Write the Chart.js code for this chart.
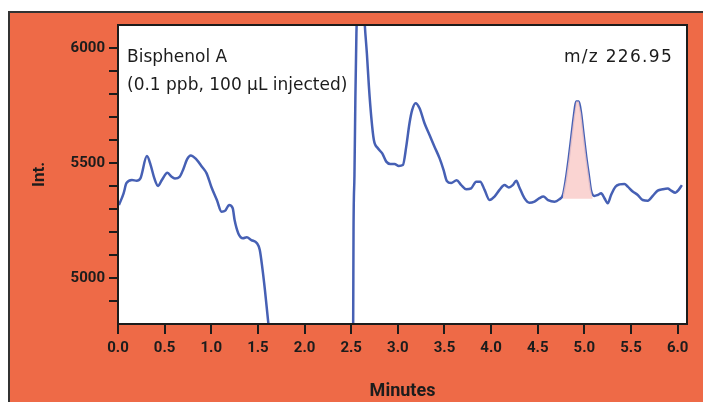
<!DOCTYPE html>
<html>
<head>
    <title>Bisphenol A m/z 226.95</title>
    <script src="https://cdn.jsdelivr.net/npm/chart.js"></script>
    <style>
        html, body { margin: 0; padding: 0; background: #fff; }
        #wrap { width: 703px; height: 402px; }
    </style>
</head>
<body>
    <div id="wrap"><canvas id="chart" width="703" height="402"></canvas></div>

    <script>
// Trace before the solvent gap (minutes, intensity)
const timeA = [0.01, 0.06, 0.09, 0.15, 0.2, 0.24, 0.31, 0.35, 0.39, 0.43, 0.47, 0.53, 0.575, 0.61, 0.66,
    0.70, 0.74, 0.78, 0.84, 0.90, 0.95, 1.0, 1.06, 1.11, 1.15, 1.19, 1.23, 1.25, 1.29, 1.34, 1.38, 1.43,
    1.49, 1.52, 1.55, 1.575, 1.61, 1.63];
const intA = [5317, 5368, 5412, 5426, 5423, 5433, 5530, 5491, 5433, 5400, 5426, 5458, 5440, 5433, 5440,
    5473, 5516, 5533, 5516, 5484, 5455, 5397, 5339, 5288, 5293, 5317, 5303, 5252, 5194, 5173, 5177, 5165,
    5151, 5122, 5035, 4948, 4810, 4740];

// Trace after the gap
const timeB = [2.515, 2.521, 2.525, 2.535, 2.545, 2.556, 2.575, 2.60, 2.625, 2.643, 2.668, 2.69, 2.715,
    2.743, 2.786, 2.833, 2.876, 2.919, 2.965, 3.01, 3.054, 3.09, 3.125, 3.154, 3.19, 3.233, 3.286, 3.34,
    3.393, 3.447, 3.49, 3.525, 3.572, 3.63, 3.68, 3.733, 3.786, 3.84, 3.883, 3.93, 3.983, 4.036, 4.09,
    4.143, 4.19, 4.232, 4.27, 4.30, 4.357, 4.41, 4.465, 4.518, 4.56, 4.61, 4.68, 4.73, 4.77, 4.80, 4.83,
    4.86, 4.886, 4.911, 4.94, 4.965, 4.99, 5.02, 5.05, 5.07, 5.107, 5.143, 5.18, 5.215, 5.25, 5.286,
    5.333, 5.376, 5.43, 5.465, 5.518, 5.572, 5.625, 5.68, 5.733, 5.786, 5.84, 5.893, 5.93, 5.975, 6.01, 6.045];
const intB = [4700, 4790, 5209, 5448, 5788, 6064, 6250, 6380, 6300, 6120, 5977, 5832, 5701,
    5600, 5564, 5542, 5506, 5496, 5496, 5487, 5491, 5571, 5673, 5731, 5760, 5738, 5673, 5622,
    5571, 5521, 5470, 5422, 5413, 5425, 5404, 5386, 5390, 5419, 5419, 5383, 5339, 5354, 5383,
    5404, 5394, 5404, 5423, 5397, 5347, 5327, 5332, 5347, 5354, 5339, 5332, 5342, 5361, 5426, 5513,
    5614, 5701, 5767, 5767, 5716, 5629, 5527, 5440, 5383, 5357, 5361, 5368, 5347, 5325, 5361,
    5397, 5407, 5409, 5397, 5376, 5361, 5339, 5336, 5357, 5380, 5386, 5389, 5380, 5371, 5383, 5404];

// Integrated peak window and its baseline
const peakStart = 4.765;
const peakEnd = 5.09;
const peakBase = 5345;

// Axis settings
const xTicks = [0, 0.5, 1, 1.5, 2, 2.5, 3, 3.5, 4, 4.5, 5, 5.5, 6];
const yTicks = [4900, 5000, 5100, 5200, 5300, 5400, 5500, 5600, 5700, 5800, 5900, 6000];
const yLabelled = [5000, 5500, 6000];

const toPoints = (t, v) => t.map((x, i) => ({ x: x, y: v[i] }));
const peakPoints = toPoints(timeB, intB).filter(p => p.x >= peakStart && p.x <= peakEnd);
peakPoints.unshift({ x: peakStart, y: peakBase });
peakPoints.push({ x: peakEnd, y: peakBase });

const ORANGE = '#EE6A47';
const BLUE = '#4660B4';
const INK = '#1c1c1c';

// background frame + plot border + in-plot labels
const framePlugin = {
    id: 'frame',
    beforeDraw(chart) {
        const ctx = chart.ctx;
        const a = chart.chartArea;
        ctx.save();
        ctx.fillStyle = '#fff';
        ctx.fillRect(0, 0, chart.width, chart.height);
        ctx.fillStyle = ORANGE;
        ctx.fillRect(9, 12, chart.width - 9, chart.height - 12);
        ctx.strokeStyle = '#333';
        ctx.lineWidth = 2;
        ctx.beginPath();
        ctx.moveTo(9, chart.height);
        ctx.lineTo(9, 12);
        ctx.lineTo(chart.width, 12);
        ctx.stroke();
        ctx.fillStyle = '#fff';
        ctx.fillRect(a.left, a.top, a.right - a.left, a.bottom - a.top);
        ctx.restore();
    },
    afterDraw(chart) {
        const ctx = chart.ctx;
        const a = chart.chartArea;
        ctx.save();
        ctx.strokeStyle = INK;
        ctx.lineWidth = 2;
        ctx.strokeRect(a.left, a.top, a.right - a.left, a.bottom - a.top);
        ctx.fillStyle = INK;
        ctx.font = '17px "DejaVu Sans"';
        ctx.textBaseline = 'alphabetic';
        ctx.textAlign = 'left';
        ctx.fillText('Bisphenol A', a.left + 9, 62);
        ctx.fillText('(0.1 ppb, 100 \u00B5L injected)', a.left + 9, 90);
        ctx.textAlign = 'right';
        ctx.letterSpacing = '1.3px';
        ctx.fillText('m/z 226.95', 673, 62);
        ctx.restore();
    }
};

new Chart(document.getElementById('chart').getContext('2d'), {
    type: 'line',
    data: {
        datasets: [
            {
                data: peakPoints,
                borderWidth: 0,
                pointRadius: 0,
                backgroundColor: 'rgba(249, 205, 202, 0.85)',
                fill: { value: peakBase }
            },
            {
                data: toPoints(timeA, intA),
                borderColor: BLUE,
                borderWidth: 2.5,
                pointRadius: 0,
                cubicInterpolationMode: 'monotone',
                fill: false
            },
            {
                data: toPoints(timeB, intB),
                borderColor: BLUE,
                borderWidth: 2.5,
                pointRadius: 0,
                cubicInterpolationMode: 'monotone',
                fill: false
            }
        ]
    },
    options: {
        responsive: false,
        animation: false,
        layout: { padding: { top: 25, right: 16, left: 0, bottom: 0 } },
        plugins: {
            legend: { display: false },
            tooltip: { enabled: false }
        },
        scales: {
            x: {
                type: 'linear',
                min: 0,
                max: 6.1,
                afterBuildTicks: s => { s.ticks = xTicks.map(v => ({ value: v })); },
                afterFit: s => { s.height = 78; },
                ticks: {
                    padding: 5,
                    color: INK,
                    font: { family: 'Roboto', size: 15, weight: 'bold' },
                    maxRotation: 0,
                    callback: v => Number(v).toFixed(1)
                },
                grid: { drawOnChartArea: false, drawTicks: true, tickLength: 10, color: INK, lineWidth: 2 },
                border: { display: true, color: INK, width: 2 },
                title: {
                    display: true,
                    text: 'Minutes',
                    color: INK,
                    font: { family: 'Roboto', size: 18, weight: 'bold' },
                    padding: { top: 0, bottom: 0 }
                }
            },
            y: {
                min: 4800,
                max: 6100,
                afterBuildTicks: s => { s.ticks = yTicks.map(v => ({ value: v })); },
                afterFit: s => { s.width = 118; },
                ticks: {
                    padding: 4,
                    color: INK,
                    font: { family: 'Roboto', size: 15, weight: 'bold' },
                    callback: v => yLabelled.includes(v) ? String(v) : ''
                },
                grid: { drawOnChartArea: false, drawTicks: true, tickLength: 9, color: INK, lineWidth: 2 },
                border: { display: true, color: INK, width: 2 },
                title: {
                    display: true,
                    text: 'Int.',
                    color: INK,
                    font: { family: 'Roboto', size: 17, weight: 'bold' },
                    padding: { top: 30, bottom: 0 }
                }
            }
        }
    },
    plugins: [framePlugin]
});
    </script>
</body>
</html>
